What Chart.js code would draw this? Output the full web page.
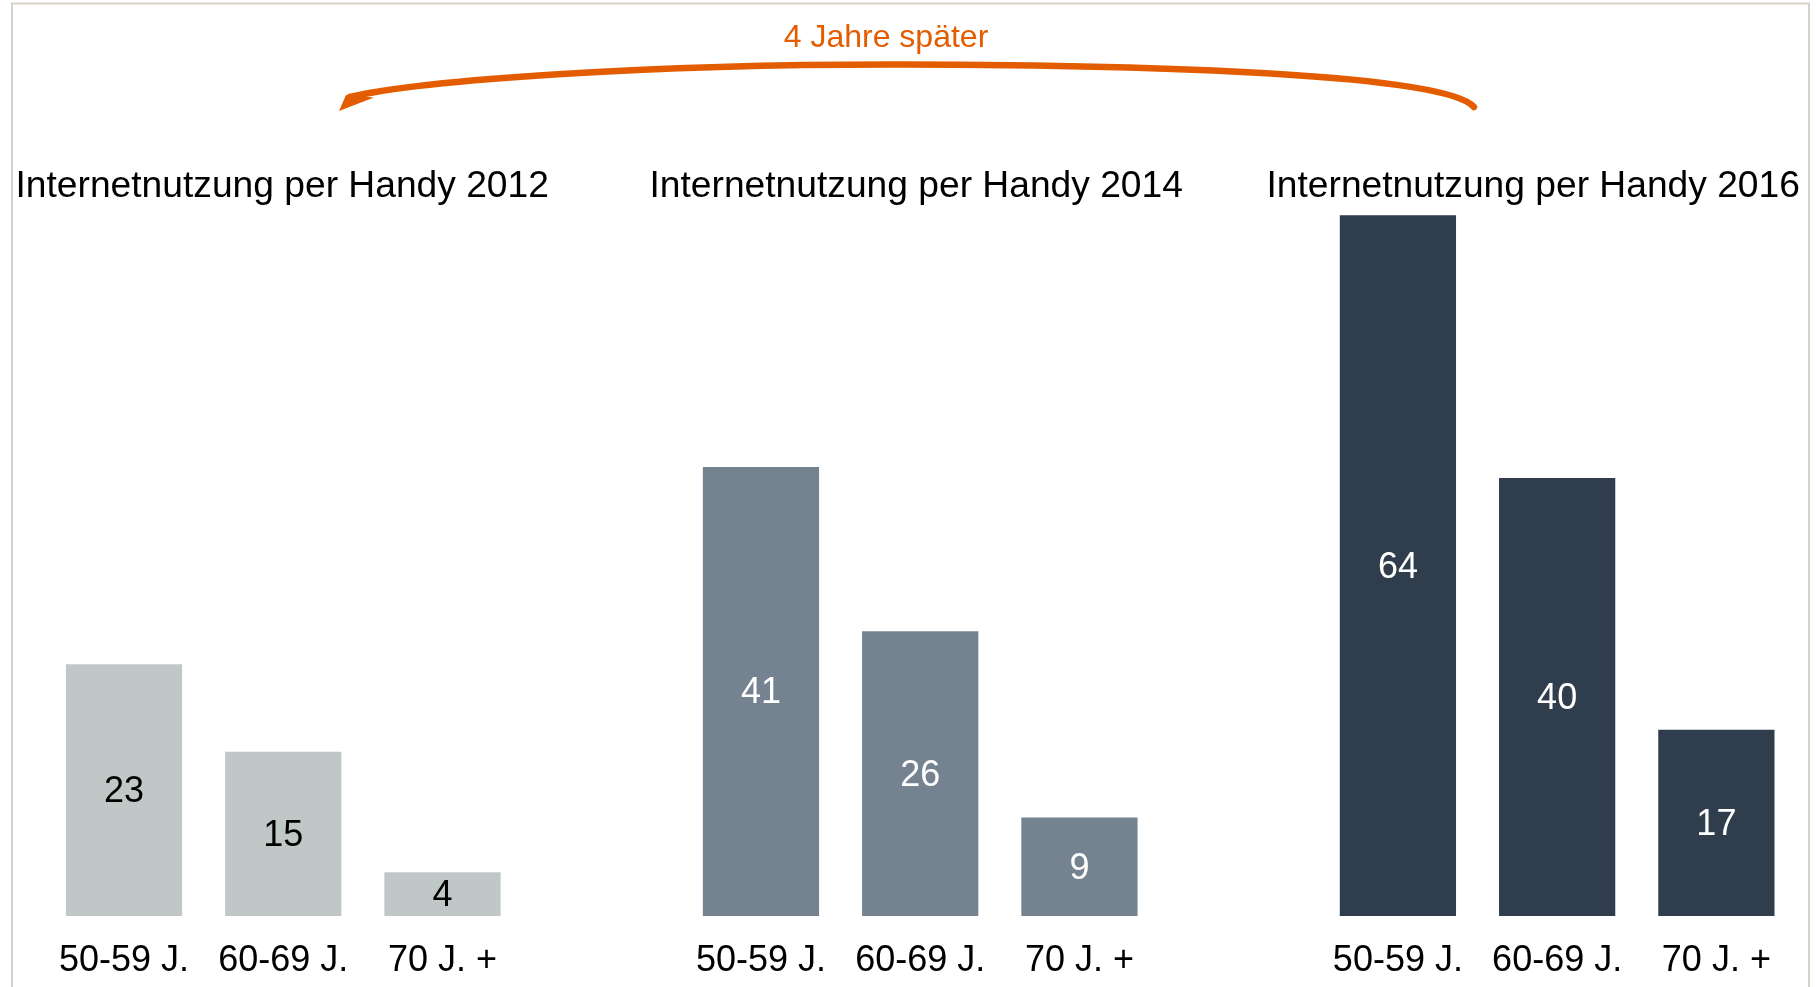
<!DOCTYPE html>
<html>
<head>
<meta charset="utf-8">
<script src="https://cdn.jsdelivr.net/npm/chart.js@4/dist/chart.umd.min.js"></script>
<style>
  html, body { margin: 0; padding: 0; background: #ffffff; }
  #wrap { position: relative; width: 1816px; height: 987px; }
  canvas { display: block; }
</style>
</head>
<body>
<div id="wrap"><canvas id="c" width="1816" height="987"></canvas></div>
<script>
// ---- Data ----
const ageGroups = ["50-59 J.", "60-69 J.", "70 J. +"];
const years = ["2012", "2014", "2016"];
const groupTitles = ["Internetnutzung per Handy 2012", "Internetnutzung per Handy 2014", "Internetnutzung per Handy 2016"];
const values2012 = [23, 15, 4];
const values2014 = [41, 26, 9];
const values2016 = [64, 40, 17];
const arrowText = "4 Jahre später";

// categories: three groups separated by one empty slot
const categories = [...ageGroups, "", ...ageGroups, "", ...ageGroups];
const pad = (vals, g) => {
  const out = new Array(categories.length).fill(null);
  vals.forEach((v, i) => { out[g * 4 + i] = v; });
  return out;
};

const FONT = "'Liberation Sans', Arial, Helvetica, sans-serif";
const ORANGE = "#E35D00";

const barColors = ["#C0C8C7", "#74838F", "#2F3D4C"];
const labelColors = ["#000000", "#ffffff", "#ffffff"];

const frame = {
  id: "frame",
  beforeDraw(chart) {
    const ctx = chart.ctx;
    ctx.save();
    ctx.strokeStyle = "#D7D2C7";
    ctx.lineWidth = 2;
    ctx.beginPath();
    ctx.moveTo(12, 987); ctx.lineTo(12, 3.5); ctx.lineTo(1809, 3.5); ctx.lineTo(1809, 987);
    ctx.stroke();
    ctx.restore();
  }
};

const valueLabels = {
  id: "valueLabels",
  afterDatasetsDraw(chart) {
    const ctx = chart.ctx;
    ctx.save();
    ctx.font = "36px " + FONT;
    ctx.textAlign = "center";
    ctx.textBaseline = "middle";
    chart.data.datasets.forEach((ds, di) => {
      const meta = chart.getDatasetMeta(di);
      meta.data.forEach((el, i) => {
        const v = ds.data[i];
        if (v === null || v === undefined) return;
        ctx.fillStyle = labelColors[di];
        ctx.fillText(String(v), el.x, (el.y + el.base) / 2 + 2);
      });
    });
    ctx.restore();
  }
};

const titlesAndArrow = {
  id: "titlesAndArrow",
  afterDraw(chart) {
    const ctx = chart.ctx;
    ctx.save();
    // group titles
    ctx.font = "37.2px " + FONT;
    ctx.fillStyle = "#000000";
    ctx.textAlign = "left";
    ctx.textBaseline = "alphabetic";
    const titleX = [15.5, 649.5, 1266.5];
    groupTitles.forEach((t, i) => ctx.fillText(t, titleX[i], 196.5));

    // arrow text
    ctx.font = "32px " + FONT;
    ctx.fillStyle = ORANGE;
    ctx.textAlign = "center";
    ctx.fillText(arrowText, 886, 47);

    // arrow curve
    ctx.strokeStyle = ORANGE;
    ctx.lineWidth = 6.5;
    ctx.lineCap = "round";
    ctx.beginPath();
    ctx.moveTo(350, 97);
    ctx.bezierCurveTo(420, 80, 650, 64, 903, 64.5);
    ctx.bezierCurveTo(1150, 65, 1445, 74, 1474, 107);
    ctx.stroke();
    // arrow head (left)
    ctx.fillStyle = ORANGE;
    ctx.beginPath();
    ctx.moveTo(339, 111);
    ctx.lineTo(346, 95);
    ctx.lineTo(374, 97.5);
    ctx.closePath();
    ctx.fill();
    ctx.restore();
  }
};

const datasets = [values2012, values2014, values2016].map((vals, g) => ({
  label: years[g],
  data: pad(vals, g),
  backgroundColor: barColors[g],
  borderWidth: 0,
  grouped: false,
  categoryPercentage: 1,
  barPercentage: 0.73
}));

new Chart(document.getElementById("c"), {
  type: "bar",
  data: { labels: categories, datasets },
  options: {
    responsive: false,
    animation: false,
    events: [],
    layout: { padding: { left: 44.4, right: 20, top: 149.5, bottom: 0 } },
    plugins: {
      legend: { display: false },
      tooltip: { enabled: false },
      title: { display: false }
    },
    scales: {
      x: {
        grid: { display: false, drawTicks: false, tickLength: 0 },
        border: { display: false },
        ticks: {
          color: "#000000",
          font: { family: FONT, size: 36 },
          padding: 23,
          maxRotation: 0,
          autoSkip: false
        },
        afterFit(scale) { scale.height = 71; }
      },
      y: {
        display: false,
        min: 0,
        max: 70
      }
    }
  },
  plugins: [frame, valueLabels, titlesAndArrow]
});
</script>
</body>
</html>
